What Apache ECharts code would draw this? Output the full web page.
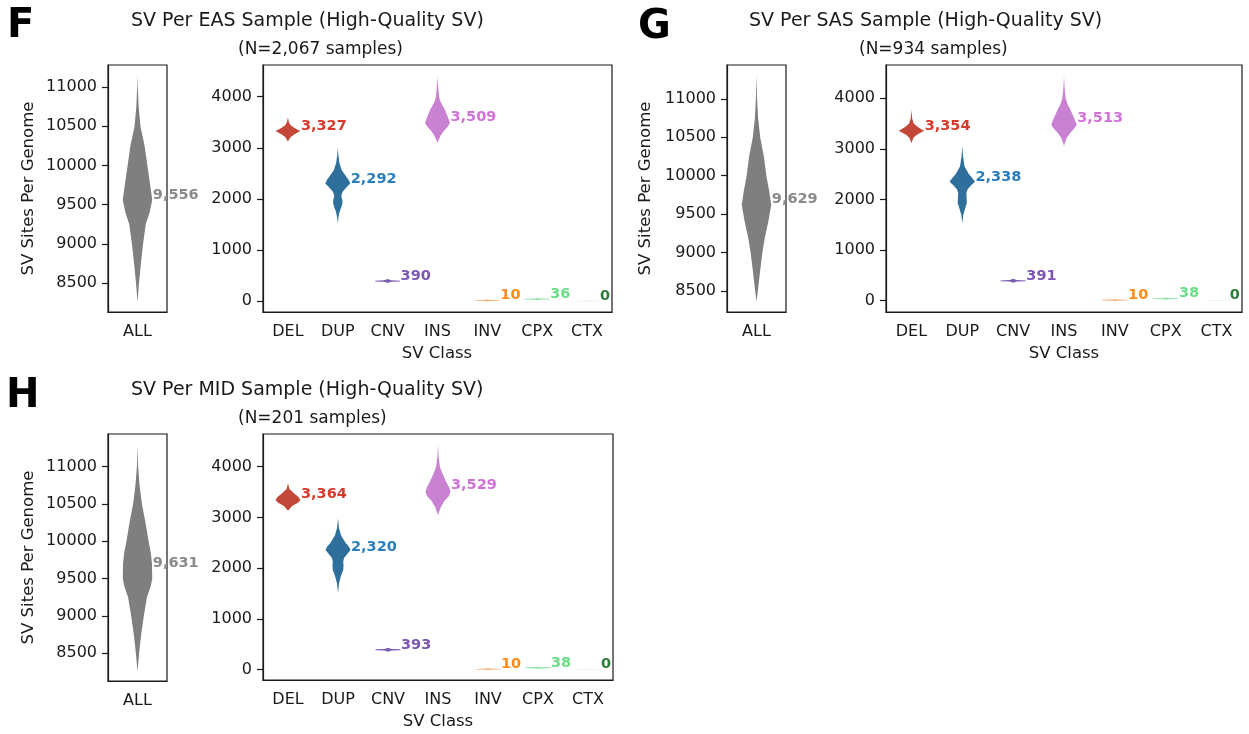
<!DOCTYPE html>
<html>
<head>
<meta charset="utf-8">
<script src="https://cdn.jsdelivr.net/npm/echarts@6/dist/echarts.min.js"></script>
<style>
  html, body { margin: 0; background: #fff; }
  #main { width: 1249px; height: 734px; }
</style>
</head>
<body>
<div id="main"></div>
<script>
// SV classes and colours
const classes = ['DEL', 'DUP', 'CNV', 'INS', 'INV', 'CPX', 'CTX']
const fillColors = ['#c4483a', '#2f6f9c', '#7a5db0', '#c981d1', '#f6b27a', '#8fe3a8', '#e2f1e3']
const labelColors = ['#d9392b', '#2a7ebd', '#7c56b3', '#d171d9', '#ff8c1a', '#6adf86', '#2f7d3c']
const allFill = '#7f7f7f'
const allLabelColor = '#8a8a8a'

// medians shown as labels
const easMedian = [3327, 2292, 390, 3509, 10, 36, 0]
const sasMedian = [3354, 2338, 391, 3513, 10, 38, 0]
const midMedian = [3364, 2320, 393, 3529, 10, 38, 0]
const easAllMedian = 9556
const sasAllMedian = 9629
const midAllMedian = 9631

// tick labels
const allTicks = [8500, 9000, 9500, 10000, 10500, 11000]
const classTicks = [0, 1000, 2000, 3000, 4000]

// axis limits
const easAllRange = [8131, 11280]
const sasAllRange = [8227, 11441]
const midAllRange = [8126, 11437]
const easClassRange = [-216, 4621]
const sasClassRange = [-225, 4658]
const midClassRange = [-203, 4644]

// violin outlines: [sites, relative width]
const easAll = [[11150,0],[11000,0.02],[10750,0.08],[10500,0.2],[10250,0.48],[10000,0.67],[9750,0.86],[9560,1],[9400,0.82],[9250,0.56],[9000,0.38],[8750,0.23],[8500,0.1],[8260,0]]
const sasAll = [[11310,0],[11000,0.04],[10750,0.11],[10500,0.25],[10250,0.5],[10000,0.67],[9800,0.86],[9620,1],[9400,0.8],[9200,0.57],[9000,0.4],[8750,0.24],[8500,0.09],[8360,0]]
const midAll = [[11280,0],[11000,0.04],[10750,0.14],[10500,0.3],[10250,0.54],[10000,0.75],[9850,0.9],[9700,0.98],[9500,1],[9400,0.9],[9250,0.64],[9000,0.43],[8750,0.25],[8500,0.11],[8250,0]]

const easShapes = [
  [[3600,0],[3500,0.08],[3440,0.22],[3390,0.5],[3360,0.75],[3328,1],[3295,0.75],[3260,0.5],[3210,0.22],[3150,0.07],[3118,0]],
  [[2990,0],[2850,0.05],[2700,0.13],[2560,0.32],[2460,0.6],[2380,0.85],[2300,1],[2230,0.72],[2150,0.42],[2080,0.3],[2040,0.29],[1980,0.36],[1920,0.38],[1850,0.3],[1750,0.15],[1650,0.06],[1520,0]],
  [[430,0],[415,0.15],[405,0.3],[398,1],[382,1],[375,0.3],[365,0.15],[350,0]],
  [[4390,0],[4200,0.05],[4000,0.13],[3900,0.24],[3820,0.42],[3740,0.6],[3650,0.75],[3560,0.9],[3480,1],[3400,0.78],[3330,0.5],[3250,0.28],[3150,0.09],[3090,0]],
  [[30,0],[22,0.2],[16,1],[4,1],[-2,0.2],[-10,0]],
  [[58,0],[50,0.2],[44,1],[30,1],[24,0.2],[16,0]],
  [[8,0],[4,1],[-4,1],[-8,0]]
]
const sasShapes = [
  [[3770,0],[3600,0.06],[3500,0.18],[3440,0.45],[3400,0.72],[3360,1],[3320,0.72],[3280,0.42],[3220,0.16],[3110,0]],
  [[3060,0],[2850,0.06],[2650,0.18],[2510,0.5],[2420,0.8],[2350,1],[2280,0.7],[2200,0.42],[2125,0.32],[2050,0.34],[1930,0.36],[1850,0.26],[1700,0.08],[1530,0]],
  [[431,0],[416,0.15],[406,0.3],[399,1],[383,1],[376,0.3],[366,0.15],[351,0]],
  [[4430,0],[4200,0.05],[4000,0.13],[3880,0.28],[3780,0.5],[3650,0.72],[3550,0.9],[3470,1],[3400,0.8],[3320,0.5],[3220,0.22],[3100,0.05],[3050,0]],
  [[30,0],[22,0.2],[16,1],[4,1],[-2,0.2],[-10,0]],
  [[60,0],[52,0.2],[46,1],[32,1],[26,0.2],[18,0]],
  [[8,0],[4,1],[-4,1],[-8,0]]
]
const midShapes = [
  [[3670,0],[3560,0.12],[3480,0.45],[3410,0.82],[3344,1],[3290,0.8],[3230,0.35],[3133,0]],
  [[2985,0],[2800,0.07],[2650,0.24],[2500,0.6],[2420,0.88],[2360,1],[2280,0.74],[2200,0.48],[2130,0.42],[2050,0.44],[1965,0.42],[1850,0.24],[1700,0.08],[1505,0]],
  [[433,0],[418,0.15],[408,0.3],[401,1],[385,1],[378,0.3],[368,0.15],[353,0]],
  [[4430,0],[4200,0.05],[4000,0.15],[3850,0.38],[3700,0.66],[3600,0.88],[3510,1],[3420,0.88],[3330,0.52],[3200,0.22],[3050,0]],
  [[30,0],[22,0.2],[16,1],[4,1],[-2,0.2],[-10,0]],
  [[60,0],[52,0.2],[46,1],[32,1],[26,0.2],[18,0]],
  [[8,0],[4,1],[-4,1],[-8,0]]
]

const FONT = 'DejaVu Sans'
const INK = '#1a1a1a'
const HALF = 0.25   // max half width of a violin, as part of a band
const fmt = v => v.toLocaleString('en-US')

function violins(xi, shapes, medians, fills, labels) {
  return {
    type: 'custom',
    xAxisIndex: xi,
    yAxisIndex: xi,
    clip: false,
    data: medians.map((m, i) => [i, m]),
    renderItem: (params, api) => {
      const i = params.dataIndex
      const band = api.size([1, 0])[0]
      const cx = api.coord([i, 0])[0]
      const prof = shapes[i]
      const right = prof.map(([v, w]) => [cx + w * band * HALF, api.coord([i, v])[1]])
      const left = prof.slice().reverse().map(([v, w]) => [cx - w * band * HALF, api.coord([i, v])[1]])
      const my = api.coord([i, medians[i]])[1]
      return {
        type: 'group',
        children: [
          { type: 'polygon', shape: { points: right.concat(left) }, style: { fill: fills[i] } },
          {
            type: 'text',
            x: cx + band * 0.26,
            y: my - 5,
            style: {
              text: fmt(medians[i]), fill: labels[i], font: 'bold 14.5px "' + FONT + '"',
              align: 'left', verticalAlign: 'middle'
            }
          }
        ]
      }
    }
  }
}

const grids = [
  { left: 108, top: 65, width: 59, height: 247 },
  { left: 263, top: 65, width: 349, height: 247 },
  { left: 727, top: 65, width: 59, height: 247 },
  { left: 886, top: 65, width: 356, height: 247 },
  { left: 108, top: 434, width: 59, height: 247 },
  { left: 263, top: 434, width: 350, height: 246 }
].map(g => Object.assign(g, { show: true, borderColor: INK, borderWidth: 1.2, backgroundColor: 'transparent' }))

function xAxis(gi, cats) {
  return {
    type: 'category', gridIndex: gi, data: cats, boundaryGap: true,
    axisLine: { onZero: false, lineStyle: { color: INK, width: 1.2 } },
    axisTick: { alignWithLabel: true, length: 6, lineStyle: { color: INK, width: 1.2 } },
    axisLabel: { color: INK, fontSize: 16, fontFamily: FONT, margin: 12 },
    splitLine: { show: false }
  }
}
function yAxis(gi, range, ticks) {
  return {
    type: 'value', gridIndex: gi, min: range[0], max: range[1],
    axisLine: { show: true, lineStyle: { color: INK, width: 1.2 } },
    axisTick: { show: true, length: 6, customValues: ticks, lineStyle: { color: INK, width: 1.2 } },
    axisLabel: { color: INK, fontSize: 16, fontFamily: FONT, margin: 11, customValues: ticks, formatter: v => String(v) },
    splitLine: { show: false }
  }
}

function txt(x, y, text, size, opts) {
  return {
    type: 'text', x: x, y: y, rotation: (opts && opts.rot) || 0,
    style: Object.assign({
      text: text, fill: INK, font: size + 'px "' + FONT + '"', align: 'center', verticalAlign: 'middle'
    }, opts && opts.style)
  }
}
const letter = { font: 'bold 40px "' + FONT + '"', align: 'left', fill: '#000' }

const graphics = [
  txt(7, 27, 'F', 40, { style: letter }),
  txt(638, 28, 'G', 40, { style: letter }),
  txt(6, 397, 'H', 40, { style: letter }),
  txt(131, 21, 'SV Per EAS Sample (High-Quality SV)', 19, { style: { align: 'left' } }),
  txt(749, 21, 'SV Per SAS Sample (High-Quality SV)', 19, { style: { align: 'left' } }),
  txt(131, 390, 'SV Per MID Sample (High-Quality SV)', 19, { style: { align: 'left' } }),
  txt(238, 50, '(N=2,067 samples)', 17, { style: { align: 'left' } }),
  txt(859, 50, '(N=934 samples)', 17, { style: { align: 'left' } }),
  txt(238, 419, '(N=201 samples)', 17, { style: { align: 'left' } }),
  txt(437, 354, 'SV Class', 16.5),
  txt(1064, 354, 'SV Class', 16.5),
  txt(438, 722, 'SV Class', 16.5),
  txt(28.5, 188.5, 'SV Sites Per Genome', 16.5, { rot: Math.PI / 2 }),
  txt(646, 188.5, 'SV Sites Per Genome', 16.5, { rot: Math.PI / 2 }),
  txt(28.5, 557.5, 'SV Sites Per Genome', 16.5, { rot: Math.PI / 2 })
]

const chart = echarts.init(document.getElementById('main'))
chart.setOption({
  animation: false,
  backgroundColor: '#fff',
  grid: grids,
  xAxis: [
    xAxis(0, ['ALL']), xAxis(1, classes),
    xAxis(2, ['ALL']), xAxis(3, classes),
    xAxis(4, ['ALL']), xAxis(5, classes)
  ],
  yAxis: [
    yAxis(0, easAllRange, allTicks), yAxis(1, easClassRange, classTicks),
    yAxis(2, sasAllRange, allTicks), yAxis(3, sasClassRange, classTicks),
    yAxis(4, midAllRange, allTicks), yAxis(5, midClassRange, classTicks)
  ],
  series: [
    violins(0, [easAll], [easAllMedian], [allFill], [allLabelColor]),
    violins(1, easShapes, easMedian, fillColors, labelColors),
    violins(2, [sasAll], [sasAllMedian], [allFill], [allLabelColor]),
    violins(3, sasShapes, sasMedian, fillColors, labelColors),
    violins(4, [midAll], [midAllMedian], [allFill], [allLabelColor]),
    violins(5, midShapes, midMedian, fillColors, labelColors)
  ],
  graphic: graphics
})
window.onresize = function () { chart.resize() }
</script>
</body>
</html>
